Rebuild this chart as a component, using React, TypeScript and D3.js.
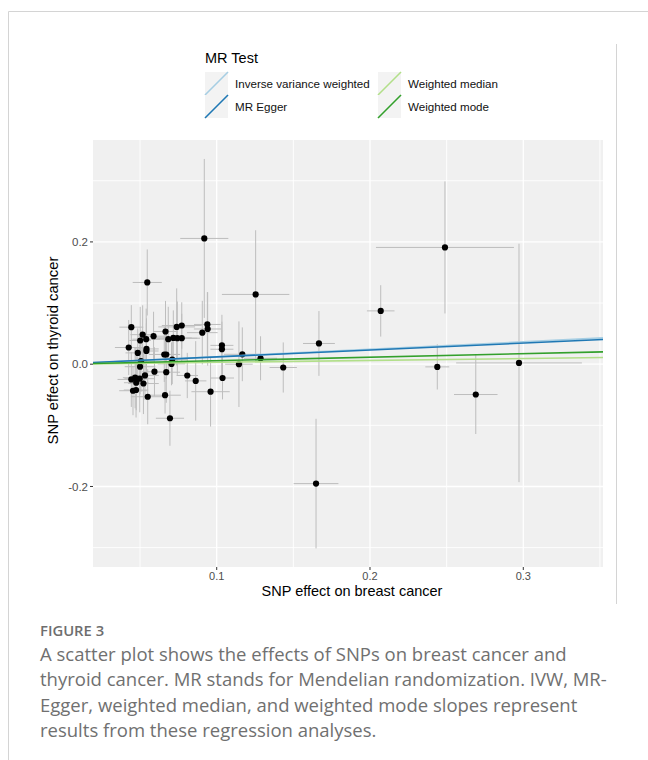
import React from "react";
import * as d3 from "d3";

// SNP effects
const snpBreast = [
  0.0443, 0.0517, 0.0501, 0.054, 0.0588, 0.0666, 0.0739, 0.0772, 0.0684, 0.0717,
  0.0743, 0.0772, 0.0939, 0.0941, 0.0906, 0.0426, 0.0542, 0.0541, 0.0485, 0.0658,
  0.0671, 0.1034, 0.1034, 0.1167, 0.1286, 0.1667, 0.071, 0.0705, 0.1145, 0.1434,
  0.0506, 0.05, 0.0594, 0.0671, 0.0808, 0.0863, 0.1038, 0.0443, 0.0468, 0.0498,
  0.0532, 0.0475, 0.0522, 0.0454, 0.0474, 0.055, 0.0663, 0.096, 0.0695, 0.0919,
  0.0547, 0.1254, 0.2489, 0.207, 0.2439, 0.269, 0.2972, 0.1648,
];
const snpThyroid = [
  0.0606, 0.0483, 0.0388, 0.0409, 0.0458, 0.0535, 0.061, 0.0633, 0.0409, 0.043,
  0.0425, 0.0425, 0.065, 0.0576, 0.0516, 0.0273, 0.025, 0.0216, 0.0185, 0.0159,
  0.0159, 0.0308, 0.0245, 0.0162, 0.0097, 0.0339, 0.0074, 0.0005, 0.0, -0.0054,
  0.0049, -0.0041, -0.0123, -0.0131, -0.0185, -0.0273, -0.0226, -0.0249, -0.0221, -0.0237,
  -0.0183, -0.0303, -0.0316, -0.0434, -0.0422, -0.0532, -0.0507, -0.045, -0.0884, 0.2057,
  0.1337, 0.1141, 0.191, 0.0872, -0.0044, -0.0496, 0.0021, -0.1953,
];
const seBreast = [
  0.0078, 0.008, 0.007, 0.009, 0.01, 0.008, 0.012, 0.013, 0.01, 0.012,
  0.013, 0.012, 0.0087, 0.009, 0.01, 0.009, 0.008, 0.008, 0.008, 0.01,
  0.009, 0.0075, 0.0075, 0.012, 0.0108, 0.0104, 0.01, 0.009, 0.009, 0.0089,
  0.009, 0.01, 0.008, 0.009, 0.007, 0.007, 0.0075, 0.009, 0.008, 0.01,
  0.009, 0.008, 0.01, 0.009, 0.008, 0.011, 0.0103, 0.0125, 0.0092, 0.0157,
  0.0095, 0.022, 0.045, 0.009, 0.0078, 0.0142, 0.041, 0.0146,
];
const seThyroid = [
  0.036, 0.048, 0.055, 0.05, 0.04, 0.05, 0.063, 0.038, 0.053, 0.045,
  0.06, 0.04, 0.053, 0.06, 0.052, 0.045, 0.05, 0.045, 0.04, 0.045,
  0.04, 0.05, 0.045, 0.044, 0.036, 0.053, 0.04, 0.035, 0.07, 0.041,
  0.05, 0.045, 0.04, 0.05, 0.037, 0.065, 0.035, 0.045, 0.05, 0.055,
  0.04, 0.045, 0.05, 0.04, 0.045, 0.045, 0.03, 0.057, 0.045, 0.13,
  0.054, 0.105, 0.108, 0.042, 0.037, 0.0646, 0.195, 0.106,
];

// MR methods
const methods = ["Inverse variance weighted", "MR Egger", "Weighted median", "Weighted mode"];
const slopes = [0.1222, 0.113, 0.031, 0.0572];
const intercepts = [0, 0.0006, 0, 0];
const methodColors = ["#a6cee3", "#1f78b4", "#b2df8a", "#33a02c"];

const xTicks = [0.1, 0.2, 0.3];
const yTicks = [-0.2, 0.0, 0.2];
const xGrid = [0.05, 0.1, 0.15, 0.2, 0.25, 0.3, 0.35];
const yGrid = [-0.3, -0.2, -0.1, 0, 0.1, 0.2, 0.3];

const captionTitle = "FIGURE 3";
const captionLines = [
  "A scatter plot shows the effects of SNPs on breast cancer and",
  "thyroid cancer. MR stands for Mendelian randomization. IVW, MR-",
  "Egger, weighted median, and weighted mode slopes represent",
  "results from these regression analyses.",
];

const fmt = (v: number) => (Math.abs(v) < 1e-9 ? "0.0" : v.toFixed(1));

export default function App() {
  const W = 648, H = 760;
  const P = { left: 93, right: 603, top: 140, bottom: 567 };
  const x = d3.scaleLinear().domain([0.0193, 0.352]).range([P.left, P.right]);
  const y = d3.scaleLinear().domain([-0.3317, 0.3667]).range([P.bottom, P.top]);
  const [x0, x1] = x.domain();
  const font = "'Liberation Sans', Arial, sans-serif";
  const grey = "#bdbdbd";

  const legendPos = [
    { kx: 205, ky: 72, lx: 235 },
    { kx: 205, ky: 95, lx: 235 },
    { kx: 378, ky: 72, lx: 408 },
    { kx: 378, ky: 95, lx: 408 },
  ];

  return (
    <svg width={W} height={H} style={{ position: "absolute", left: 0, top: 0, background: "#fff" }}>
      <defs>
        <clipPath id="panel">
          <rect x={P.left} y={P.top} width={P.right - P.left} height={P.bottom - P.top} />
        </clipPath>
      </defs>
      {/* frame */}
      <line x1={8.5} y1={11.5} x2={648} y2={11.5} stroke="#d4d4d4" />
      <line x1={8.5} y1={11.5} x2={8.5} y2={760} stroke="#d4d4d4" />
      <line x1={616.5} y1={44} x2={616.5} y2={604} stroke="#d4d4d4" />

      {/* legend */}
      <text x={205} y={63} fontFamily={font} fontSize={14.5} fill="#000">MR Test</text>
      {methods.map((m, i) => {
        const p = legendPos[i];
        return (
          <g key={m}>
            <rect x={p.kx} y={p.ky} width={23} height={23} fill="#f3f3f3" />
            <line x1={p.kx} y1={p.ky + 23} x2={p.kx + 23} y2={p.ky} stroke={methodColors[i]} strokeWidth={1.6} />
            <text x={p.lx} y={p.ky + 11.5} dy="0.35em" fontFamily={font} fontSize={11.6} fill="#111">{m}</text>
          </g>
        );
      })}

      {/* panel */}
      <rect x={P.left} y={P.top} width={P.right - P.left} height={P.bottom - P.top} fill="#f0f0f0" />
      {xGrid.map((v) => (
        <line key={"gx" + v} x1={x(v)} x2={x(v)} y1={P.top} y2={P.bottom} stroke="#fff" strokeWidth={v === 0.1 || v === 0.2 || v === 0.3 ? 1.3 : 0.9} />
      ))}
      {yGrid.map((v) => (
        <line key={"gy" + v} y1={y(v)} y2={y(v)} x1={P.left} x2={P.right} stroke="#fff" strokeWidth={Math.abs(v) < 1e-9 || Math.abs(Math.abs(v) - 0.2) < 1e-9 ? 1.3 : 0.9} />
      ))}

      <g clipPath="url(#panel)">
        {snpBreast.map((bx, i) => (
          <g key={"e" + i}>
            <line x1={x(bx)} x2={x(bx)} y1={y(snpThyroid[i] - seThyroid[i])} y2={y(snpThyroid[i] + seThyroid[i])} stroke={grey} strokeWidth={1} />
            <line x1={x(bx - seBreast[i])} x2={x(bx + seBreast[i])} y1={y(snpThyroid[i])} y2={y(snpThyroid[i])} stroke={grey} strokeWidth={1} />
          </g>
        ))}
        {snpBreast.map((bx, i) => (
          <circle key={"p" + i} cx={x(bx)} cy={y(snpThyroid[i])} r={3.1} fill="#000" />
        ))}
        {methods.map((m, i) => (
          <line key={"l" + m} x1={x(x0)} x2={x(x1)} y1={y(intercepts[i] + slopes[i] * x0)} y2={y(intercepts[i] + slopes[i] * x1)} stroke={methodColors[i]} strokeWidth={1.6} />
        ))}
      </g>

      {/* axes */}
      {yTicks.map((v) => (
        <g key={"yt" + v}>
          <line x1={P.left - 3} x2={P.left} y1={y(v)} y2={y(v)} stroke="#333" />
          <text x={P.left - 5} y={y(v)} dy="0.35em" textAnchor="end" fontFamily={font} fontSize={11.5} fill="#4d4d4d">{fmt(v)}</text>
        </g>
      ))}
      {xTicks.map((v) => (
        <g key={"xt" + v}>
          <line x1={x(v)} x2={x(v)} y1={P.bottom} y2={P.bottom + 3} stroke="#333" />
          <text x={x(v)} y={P.bottom + 9.5} dy="0.35em" textAnchor="middle" fontFamily={font} fontSize={11} fill="#4d4d4d">{fmt(v)}</text>
        </g>
      ))}
      <text x={(P.left + P.right) / 2 + 4} y={591} dy="0.35em" textAnchor="middle" fontFamily={font} fontSize={14.5} fill="#000">SNP effect on breast cancer</text>
      <text transform={`translate(53,${(P.top + P.bottom) / 2 - 3}) rotate(-90)`} dy="0.35em" textAnchor="middle" fontFamily={font} fontSize={14.8} fill="#000">SNP effect on thyroid cancer</text>

      {/* caption */}
      <text x={40} y={636} fontFamily="'Open Sans', sans-serif" fontSize={14.8} fontWeight={600} fill="#6e6e6e">{captionTitle}</text>
      {captionLines.map((t, i) => (
        <text key={"c" + i} x={40} y={661 + i * 25.3} fontFamily="'Open Sans', sans-serif" fontSize={18.5} fill="#707070">{t}</text>
      ))}
    </svg>
  );
}
